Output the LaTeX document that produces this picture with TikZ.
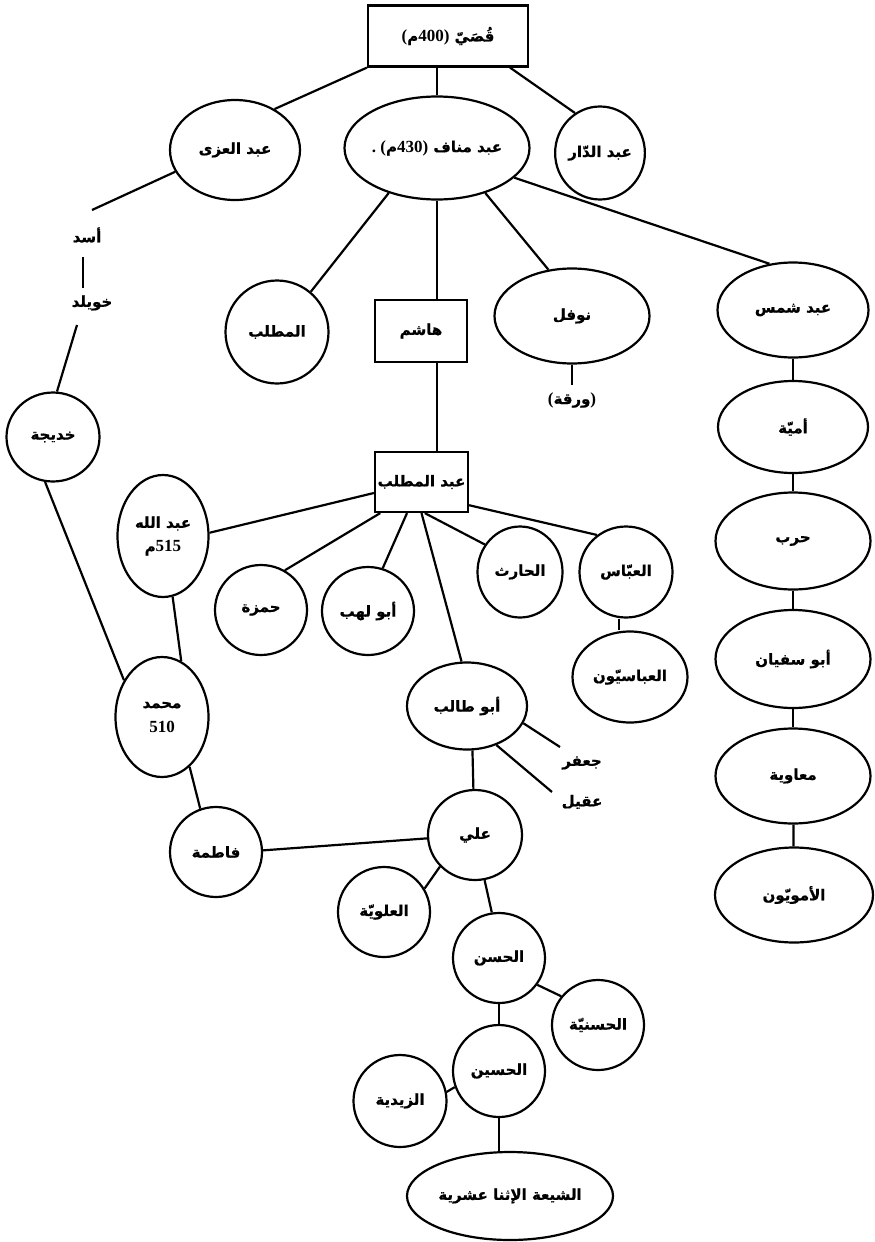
\documentclass[tikz,border=0pt]{standalone}
\usepackage{fontspec}
\usetikzlibrary{shapes.geometric}
\TeXXeTstate=1
\newfontfamily\arfontbase[Script=Arabic, BoldFeatures={FakeBold=0.8}]{DejaVu Sans}
\newfontfamily\dgfontbase{Liberation Serif}
\newcommand\AR{\arfontbase\bfseries\fontsize{15}{18}\selectfont}
\newcommand\DG{\dgfontbase\bfseries\fontsize{17}{18}\selectfont}
\newcommand\RL[1]{{\AR\beginR #1\endR}}
\tikzset{
  nd/.style={ellipse, draw, line width=2.2pt, inner sep=0pt, font=\AR},
  bx/.style={rectangle, draw, line width=2.2pt, inner sep=0pt, font=\AR},
  lbl/.style={inner sep=0pt, minimum height=24pt, font=\AR},
  ln/.style={line width=2.2pt}
}
\begin{document}
\begin{tikzpicture}[x=1pt,y=-1pt]
\useasboundingbox[fill=white] (0,0) rectangle (875,1242);
% nodes
\node[bx, minimum width=160pt, minimum height=61pt] (q) at (448,36) {{\DG(}\RL{م}{\DG 400)}\ \RL{قُصَيّ}};
\node[nd, minimum width=185pt, minimum height=103pt] (mn) at (437,148) {{\DG.\ (}\RL{م}{\DG 430)}\ \RL{عبد مناف}};
\node[nd, minimum width=86pt, minimum height=93pt] (dd) at (600,153) {\RL{عبد الدّار}};
\node[nd, minimum width=130pt, minimum height=100pt] (ozza) at (235,150) {\RL{عبد العزى}};
\node[lbl] (asad) at (87,235) {\RL{أسد}};
\node[lbl] (khuw) at (92,303) {\RL{خويلد}};
\node[nd, minimum width=93pt, minimum height=89pt] (khad) at (53,437) {\RL{خديجة}};
\node[nd, minimum width=103pt, minimum height=103pt] (mutt) at (277,332) {\RL{المطلب}};
\node[bx, minimum width=92pt, minimum height=62pt] (hash) at (421,331) {\RL{هاشم}};
\node[nd, minimum width=155pt, minimum height=95pt] (nawf) at (572,316) {\RL{نوفل}};
\node[lbl] (waraq) at (572,400) {{\DG(}\RL{ورقة}{\DG)}};
\node[nd, minimum width=151pt, minimum height=95pt] (shams) at (793,310) {\RL{عبد شمس}};
\node[nd, minimum width=150pt, minimum height=92pt] (umay) at (793,427) {\RL{أميّة}};
\node[nd, minimum width=155pt, minimum height=97pt] (harb) at (793,541) {\RL{حرب}};
\node[nd, minimum width=155pt, minimum height=98pt] (abus) at (793,659) {\RL{أبو سفيان}};
\node[nd, minimum width=155pt, minimum height=95pt] (muaw) at (793,776) {\RL{معاوية}};
\node[nd, minimum width=158pt, minimum height=95pt] (umaw) at (794,895) {\RL{الأمويّون}};
\node[bx, minimum width=93pt, minimum height=60pt] (am) at (421.5,482) {\RL{عبد المطلب}};
\node[nd, minimum width=91pt, minimum height=122pt, align=center] (abdl) at (163,536) {\RL{عبد الله}\\[6pt]\RL{م}{\DG 515}};
\node[nd, minimum width=92pt, minimum height=90pt] (hamz) at (261,610) {\RL{حمزة}};
\node[nd, minimum width=92pt, minimum height=88pt] (lahab) at (368,611) {\RL{أبو لهب}};
\node[nd, minimum width=85pt, minimum height=91pt] (hari) at (520,572) {\RL{الحارث}};
\node[nd, minimum width=93pt, minimum height=91pt] (abba) at (626,572) {\RL{العبّاس}};
\node[nd, minimum width=115pt, minimum height=91pt] (abbs) at (630,677) {\RL{العباسيّون}};
\node[nd, minimum width=120pt, minimum height=87pt] (abut) at (467,706) {\RL{أبو طالب}};
\node[lbl] (jaaf) at (582,763) {\RL{جعفر}};
\node[lbl] (aqil) at (582,802) {\RL{عقيل}};
\node[nd, minimum width=94pt, minimum height=90pt] (ali) at (475,835) {\RL{علي}};
\node[nd, minimum width=92pt, minimum height=90pt] (fati) at (216,852) {\RL{فاطمة}};
\node[nd, minimum width=93pt, minimum height=120pt, align=center] (muh) at (162,717) {\RL{محمد}\\[6pt]{\DG 510}};
\node[nd, minimum width=92pt, minimum height=90pt] (alaw) at (384,912) {\RL{العلويّة}};
\node[nd, minimum width=92pt, minimum height=90pt] (hasa) at (499,958) {\RL{الحسن}};
\node[nd, minimum width=92pt, minimum height=90pt] (hasy) at (598,1025) {\RL{الحسنيّة}};
\node[nd, minimum width=92pt, minimum height=92pt] (husa) at (499,1071) {\RL{الحسين}};
\node[nd, minimum width=93pt, minimum height=92pt] (zayd) at (400,1101) {\RL{الزيدية}};
\node[nd, minimum width=206pt, minimum height=88pt] (shia) at (510,1196) {\RL{الشيعة الإثنا عشرية}};
% free ends
\coordinate (c1) at (92,210);
\coordinate (c2) at (83,257);
\coordinate (c3) at (83,288);
\coordinate (c4) at (77,325);
\coordinate (c5) at (572,385);
\coordinate (c6) at (560,747);
\coordinate (c7) at (552,792);
% connectors
\draw[ln] (q.south west) -- (ozza.46);
\draw[ln] (mn.north) -- (mn.north |- q.south);
\draw[ln] (q.333) -- (dd.122);
\draw[ln] (ozza.200) -- (c1);
\draw[ln] (c2) -- (c3);
\draw[ln] (c4) -- (khad.85);
\draw[ln] (khad.260) -- (muh.136);
\draw[ln] (mn.223) -- (mutt.50);
\draw[ln] (mn.south) -- (mn.south |- hash.north);
\draw[ln] (mn.317) -- (nawf.117);
\draw[ln] (mn.339) -- (shams.117);
\draw[ln] (nawf.south) -- (c5);
\draw[ln] (shams) -- (umay);
\draw[ln] (umay) -- (harb);
\draw[ln] (harb) -- (abus);
\draw[ln] (abus) -- (muaw);
\draw[ln] (muaw) -- (umaw);
\draw[ln] (hash.south -| mn.south) -- (am.north -| mn.south);
\draw[ln] (am.193) -- (abdl.4);
\draw[ln] (am.217) -- (hamz.59);
\draw[ln] (am.245) -- (lahab.71);
\draw[ln] (am.south) -- (abut.97);
\draw[ln] (am.276) -- (hari.142);
\draw[ln] (am.334) -- (abba.128);
\draw[ln] ([xshift=-7pt]abba.south) -- ([xshift=-7pt]abba.south |- abbs.north);
\draw[ln] (abut.343) -- (c6);
\draw[ln] (abut.307) -- (c7);
\draw[ln] (abut.277) -- (ali.92);
\draw[ln] (fati.2) -- (ali.184);
\draw[ln] (abdl.279) -- (muh.71);
\draw[ln] (muh.299) -- (fati.110);
\draw[ln] (ali.222) -- (alaw.30);
\draw[ln] (ali.282) -- (hasa.99);
\draw[ln] (hasa.325) -- (hasy.142);
\draw[ln] (hasa) -- (husa);
\draw[ln] (husa.200) -- (zayd.11);
\draw[ln] (husa.south) -- (husa.south |- shia.north);
\end{tikzpicture}
\end{document}
